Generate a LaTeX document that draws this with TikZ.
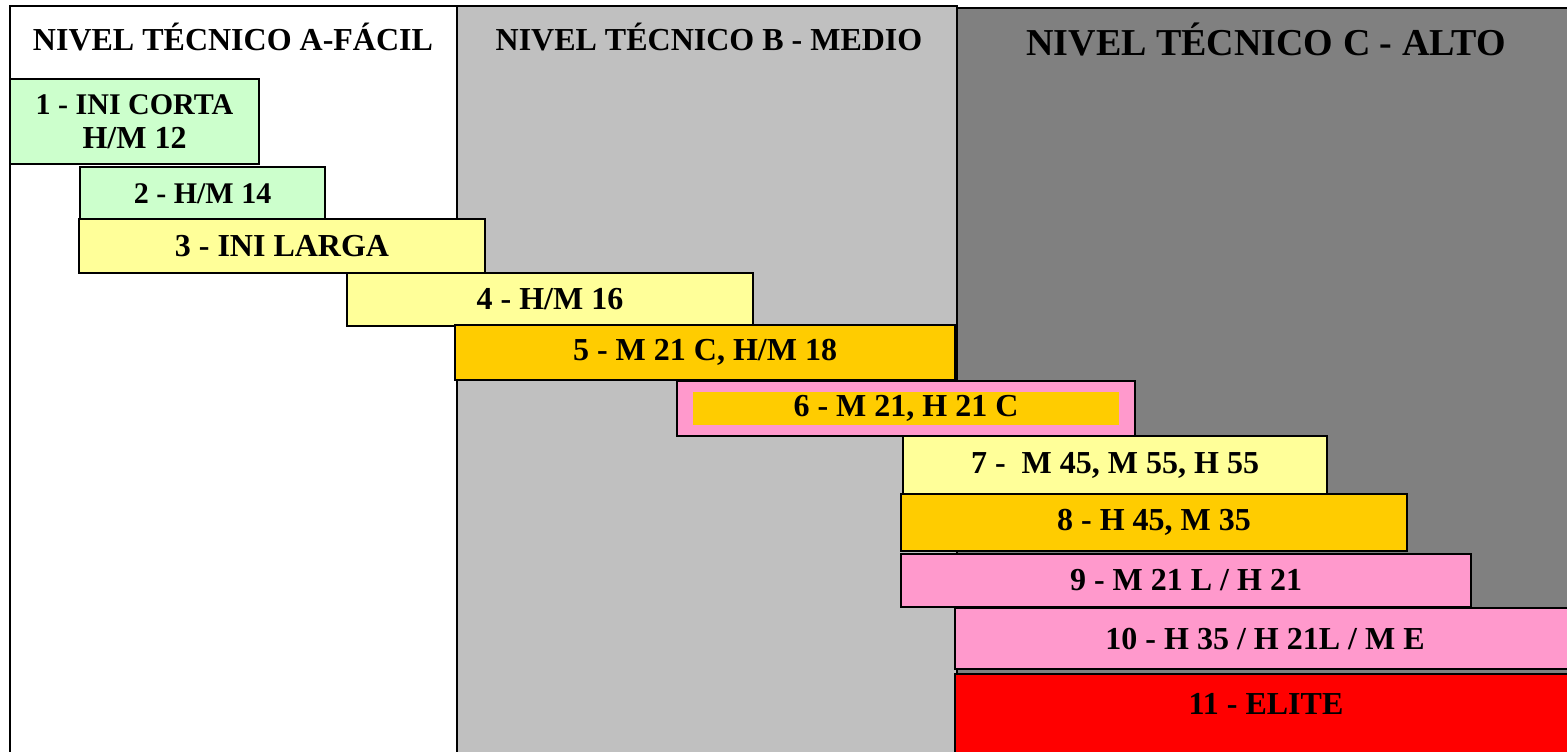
\documentclass[tikz,border=0pt]{standalone}
\usepackage{fontspec}
\setmainfont{Liberation Serif}
\definecolor{verde}{HTML}{CCFFCC}
\definecolor{amarillo}{HTML}{FFFF99}
\definecolor{naranja}{HTML}{FFCC00}
\definecolor{rosa}{HTML}{FF99CC}
\definecolor{rojo}{HTML}{FF0000}
\definecolor{grisB}{HTML}{C0C0C0}
\definecolor{grisC}{HTML}{808080}
\tikzset{
  columna/.style={draw=black,line width=1pt},
  titulo/.style={font=\fontsize{16}{18}\selectfont\bfseries},
  caja/.style={draw=black,line width=1pt},
  rotulo/.style={font=\fontsize{16}{17}\selectfont\bfseries,align=center,inner sep=0pt,text=black}
}
\begin{document}
\begin{tikzpicture}[x=0.5pt,y=-0.5pt]
    \useasboundingbox (0,0) rectangle (1567,751);
    % columnas
    \draw[columna,fill=white](10,6) rectangle (457,760);
    \draw[columna,fill=grisB](457,6) rectangle (957,760);
    \draw[columna,fill=grisC](957,8) rectangle (1575,760);
    \node[titulo] (tA) at (233,37) {NIVEL TÉCNICO A-FÁCIL};
    \node[titulo] (tB) at (709,37) {NIVEL TÉCNICO B - MEDIO};
    \node[titulo,font=\fontsize{19}{21}\selectfont\bfseries] (tC) at (1266,39) {NIVEL TÉCNICO C - ALTO};
    % niveles
    \foreach \n/\xa/\ya/\xb/\yb/\c/\t in {
      1/10/79/259/164/verde/{\fontsize{15}{16}\selectfont 1 - INI CORTA\\H/M 12},
      2/80/167/325/221/verde/{\fontsize{15}{16}\selectfont 2 - H/M 14},
      3/79/219/485/273/amarillo/{3 - INI LARGA},
      4/347/273/753/326/amarillo/{4 - H/M 16},
      5/455/325/955/380/naranja/{5 - M 21 C, H/M 18},
      6/677/381/1135/436/rosa/{},
      7/903/436/1327/494/amarillo/{7 -~~M 45, M 55, H 55},
      8/901/494/1407/551/naranja/{8 - H 45, M 35},
      9/901/554/1471/607/rosa/{9 - M 21 L / H 21},
      10/955/608/1575/669/rosa/{10 - H 35 / H 21L / M E}}{
      \draw[caja,fill=\c](\xa,\ya) rectangle (\xb,\yb) node[rotulo,midway] (n\n) {\t};
    }
    \fill[naranja](693,392) rectangle (1119,425) node[rotulo,midway] (n6i) {6 - M 21, H 21 C};
    \draw[caja,fill=rojo](955,674) rectangle (1575,760);
    \node[rotulo] (n11) at (1266,704) {11 - ELITE};
\end{tikzpicture}
\end{document}
